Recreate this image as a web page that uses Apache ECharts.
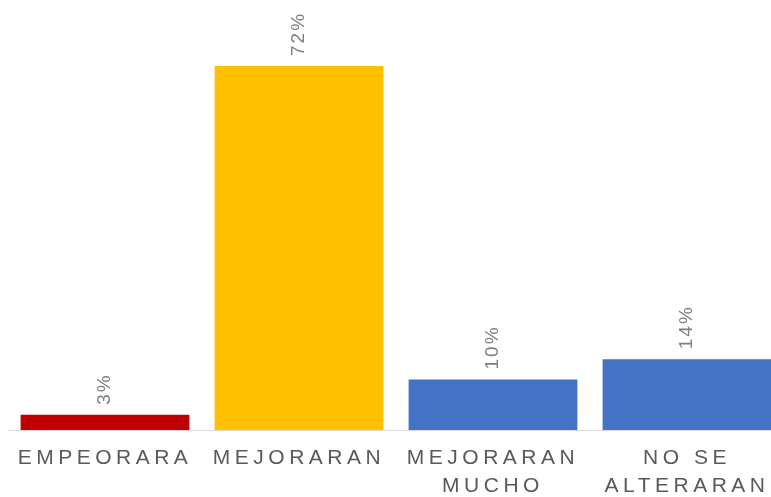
<!DOCTYPE html>
<html>
<head>
<meta charset="utf-8">
<script src="https://cdn.jsdelivr.net/npm/echarts@6/dist/echarts.min.js"></script>
<style>
  html, body { margin: 0; padding: 0; background: #fff; }
  #chart { width: 771px; height: 497px; }
</style>
</head>
<body>
<div id="chart"></div>
<script>
(function (window) {
    'use strict';
    // datos
    var categories = ['EMPEORARA', 'MEJORARAN', 'MEJORARAN\nMUCHO', 'NO SE\nALTERARAN'];
    var values = [3, 72, 10, 14];
    var barColors = ['#C00000', '#FFC000', '#4472C4', '#4472C4'];

    // espaciado de letras como en el original (mayor en el eje)
    var fillText = CanvasRenderingContext2D.prototype.fillText;
    CanvasRenderingContext2D.prototype.fillText = function () {
        var m = /(\d+)px/.exec(this.font);
        var size = m ? +m[1] : 12;
        this.letterSpacing = size >= 20 ? '4.5px' : '2px';
        return fillText.apply(this, arguments);
    };

    var et = echarts.init(document.getElementById('chart'));
    et.setOption({
        animation: false,
        grid: { left: 8, right: -13, top: 66, bottom: 67, outerBoundsMode: 'none' },
        xAxis: {
            type: 'category',
            data: categories,
            axisLine: { lineStyle: { color: '#D9D9D9', width: 1 } },
            axisTick: { show: false },
            axisLabel: {
                color: '#595959',
                fontSize: 21,
                fontFamily: 'Liberation Sans, Arial, sans-serif',
                lineHeight: 28,
                margin: 14,
                interval: 0
            }
        },
        yAxis: {
            type: 'value',
            min: 0,
            max: 72,
            show: false
        },
        series: [{
            type: 'bar',
            barCategoryGap: '13%',
            data: values.map(function (v, i) {
                return { value: v, itemStyle: { color: barColors[i] } };
            }),
            label: {
                show: true,
                position: 'top',
                rotate: 90,
                align: 'left',
                verticalAlign: 'middle',
                distance: 10,
                color: '#7F7F7F',
                fontSize: 19,
                fontFamily: 'Liberation Sans, Arial, sans-serif',
                formatter: '{c}%'
            }
        }]
    });
})(window);
</script>
</body>
</html>
